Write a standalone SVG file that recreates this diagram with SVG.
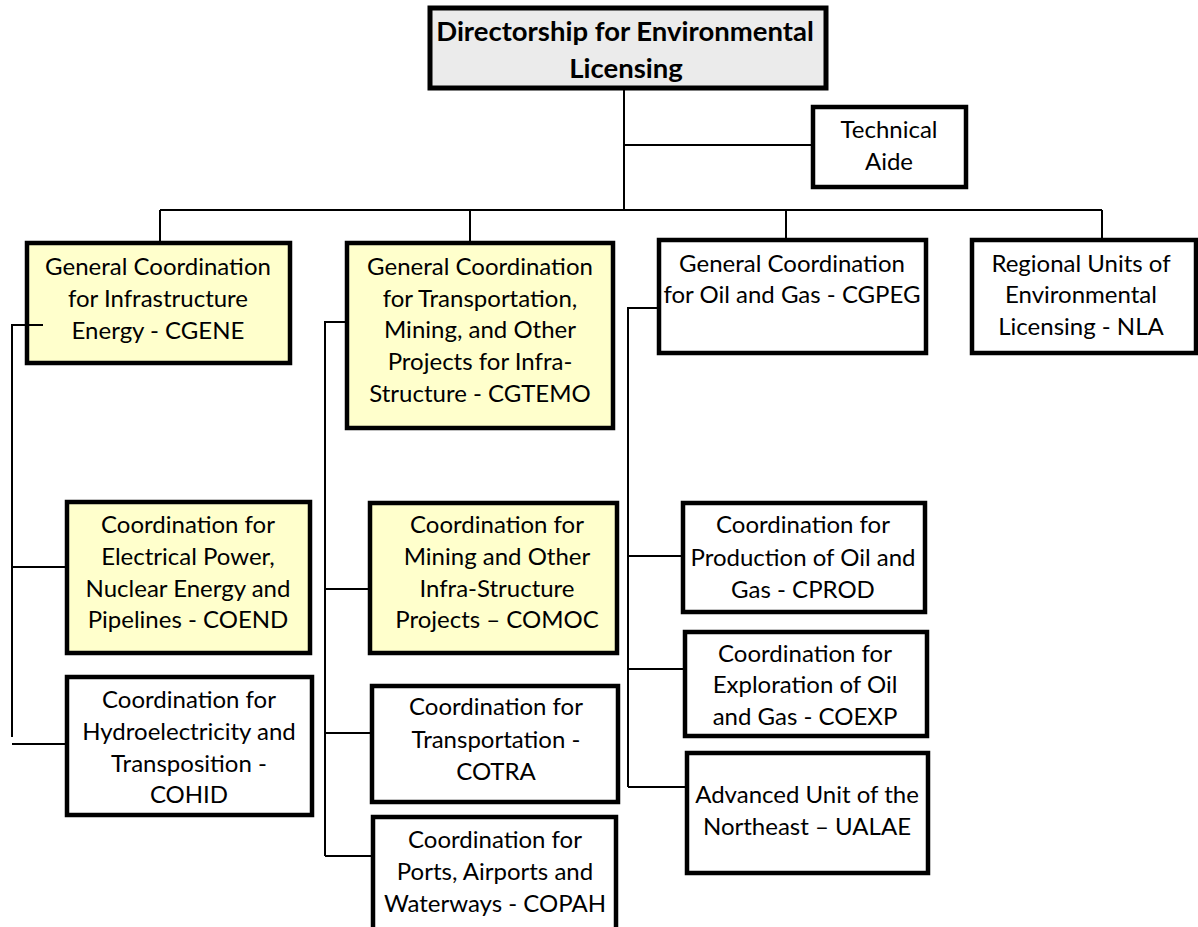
<svg xmlns="http://www.w3.org/2000/svg" width="1198" height="927" viewBox="0 0 1198 927">
<style>
.box{stroke:#000;stroke-width:4.5;fill:#fff}
.yel{fill:#ffffcc}
.top{fill:#ebebeb;stroke-width:5}
.t{font-family:Lato,"Liberation Sans",sans-serif;font-size:24px;fill:#000;text-anchor:middle}
.b{font-weight:bold;font-size:27.5px}
.c{stroke:#000;stroke-width:2;fill:none}
</style>
<rect width="1198" height="927" fill="#fff"/>
<g id="connectors">
<path class="c" d="M624 88V210M624 145H813M160 210H1102M160 210V243M470 210V243M786 210V240M1102 210V240"/>
<path class="c" d="M43 325H12V737M12 567H67M12 744H67"/>
<path class="c" d="M347 322H325V856M325 589H370M325 733H372M325 856H373"/>
<path class="c" d="M659 308H628V787M628 556H683M628 669H685M628 787H687"/>
</g>
<g id="director"><rect class="box top" x="430" y="8" width="396" height="80"/>
<text class="t b" x="625" y="41">Directorship for Environmental</text><text class="t b" x="626" y="78">Licensing</text></g>
<g id="aide"><rect class="box" x="813" y="107" width="153" height="80"/>
<text class="t" x="889" y="138">Technical</text><text class="t" x="889" y="170">Aide</text></g>
<g id="cgene"><rect class="box yel" x="27" y="243" width="263" height="120"/>
<text class="t" x="158" y="275">General Coordination</text><text class="t" x="158" y="307">for Infrastructure</text><text class="t" x="158" y="339">Energy - CGENE</text></g>
<path class="c" d="M27 325H43"/>
<g id="cgtemo"><rect class="box yel" x="347" y="243" width="266" height="185"/>
<text class="t" x="480" y="275">General Coordination</text><text class="t" x="480" y="307">for Transportation,</text><text class="t" x="480" y="338">Mining, and Other</text><text class="t" x="480" y="370">Projects for Infra-</text><text class="t" x="480" y="402">Structure - CGTEMO</text></g>
<g id="cgpeg"><rect class="box" x="659" y="240" width="267" height="113"/>
<text class="t" x="792" y="272">General Coordination</text><text class="t" x="792" y="303">for Oil and Gas - CGPEG</text></g>
<g id="nla"><rect class="box" x="972" y="240" width="224" height="113"/>
<text class="t" x="1081" y="272">Regional Units of</text><text class="t" x="1081" y="303">Environmental</text><text class="t" x="1081" y="335">Licensing - NLA</text></g>
<g id="coend"><rect class="box yel" x="67" y="502" width="243" height="151"/>
<text class="t" x="188" y="533">Coordination for</text><text class="t" x="188" y="565">Electrical Power,</text><text class="t" x="188" y="597">Nuclear Energy and</text><text class="t" x="188" y="628">Pipelines - COEND</text></g>
<g id="cohid"><rect class="box" x="67" y="677" width="245" height="138"/>
<text class="t" x="189" y="708">Coordination for</text><text class="t" x="189" y="740">Hydroelectricity and</text><text class="t" x="189" y="772">Transposition -</text><text class="t" x="189" y="803">COHID</text></g>
<g id="comoc"><rect class="box yel" x="370" y="503" width="247" height="150"/>
<text class="t" x="497" y="533">Coordination for</text><text class="t" x="497" y="565">Mining and Other</text><text class="t" x="497" y="597">Infra-Structure</text><text class="t" x="497" y="628">Projects – COMOC</text></g>
<g id="cotra"><rect class="box" x="372" y="686" width="246" height="116"/>
<text class="t" x="496" y="715">Coordination for</text><text class="t" x="496" y="748">Transportation -</text><text class="t" x="496" y="780">COTRA</text></g>
<g id="copah"><rect class="box" x="373" y="817" width="243" height="120"/>
<text class="t" x="495" y="848">Coordination for</text><text class="t" x="495" y="880">Ports, Airports and</text><text class="t" x="495" y="912">Waterways - COPAH</text></g>
<g id="cprod"><rect class="box" x="683" y="503" width="242" height="109"/>
<text class="t" x="803" y="533">Coordination for</text><text class="t" x="803" y="566">Production of Oil and</text><text class="t" x="803" y="598">Gas - CPROD</text></g>
<g id="coexp"><rect class="box" x="685" y="632" width="242" height="104"/>
<text class="t" x="805" y="662">Coordination for</text><text class="t" x="805" y="693">Exploration of Oil</text><text class="t" x="805" y="725">and Gas - COEXP</text></g>
<g id="ualae"><rect class="box" x="687" y="753" width="241" height="120"/>
<text class="t" x="807" y="803">Advanced Unit of the</text><text class="t" x="807" y="835">Northeast – UALAE</text></g>
</svg>
